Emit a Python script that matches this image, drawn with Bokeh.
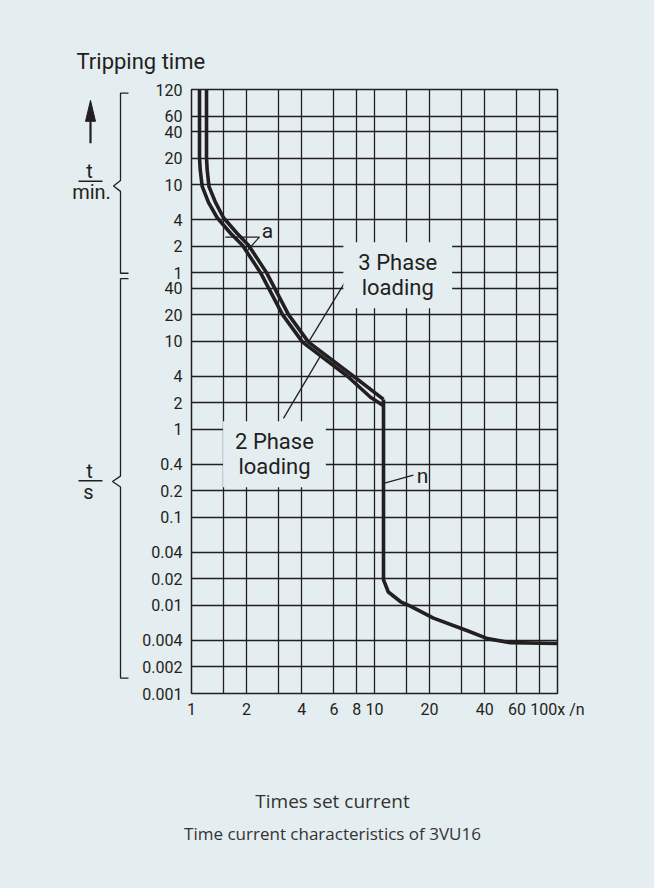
from bokeh.plotting import figure
from bokeh.layouts import column, row
from bokeh.models import Range1d, FixedTicker, Label
from bokeh.core.properties import value
from bokeh.embed import file_html
from bokeh.resources import INLINE

BG = "#e4edf0"
INK = "#231f20"
FONT = "Roboto"

# ---- axes / grid values ----
x_label_ticks = [1, 2, 4, 6, 8, 10, 20, 40, 60, 100]
x_label_text = ["1", "2", "4", "6", "8", "10", "20", "40", "60", "100x /n"]
x_grid = [1, 1.5, 2, 3, 4, 6, 8, 10, 15, 20, 30, 40, 60, 80, 100]

# tripping time in seconds (upper part labelled in minutes)
y_ticks_s = [7200, 3600, 2400, 1200, 600, 240, 120, 60,
             40, 20, 10, 4, 2, 1, 0.4, 0.2, 0.1, 0.04, 0.02, 0.01, 0.004, 0.002, 0.001]
y_tick_text = ["120", "60", "40", "20", "10", "4", "2", "1",
               "40", "20", "10", "4", "2", "1", "0.4", "0.2", "0.1", "0.04", "0.02",
               "0.01", "0.004", "0.002", "0.001"]

# ---- curves (x = multiple of set current, t = seconds) ----
phase2_x = [1.106, 1.106, 1.116, 1.144, 1.238, 1.382, 1.634, 1.899, 2.383, 3.143, 4.043, 7.120, 9.509, 11.20]
phase2_t = [7200, 1200, 881, 571, 376, 252, 168, 122.8, 60, 20, 9.75, 4, 2.31, 1.85]
phase3_x = [1.208, 1.208, 1.218, 1.246, 1.352, 1.496, 1.773, 2.049, 2.570, 3.389, 4.358, 7.677, 11.20]
phase3_t = [7200, 1200, 881, 571, 376, 252, 168, 122.8, 60, 20, 9.75, 4, 2.18]
n_x = [11.2, 11.2, 11.9, 13.9, 15.7, 21.0, 32.2, 41.4, 55.3, 100]
n_t = [2.18, 0.0195, 0.0142, 0.0110, 0.0098, 0.00718, 0.00516, 0.0042, 0.00378, 0.0037]

# leader lines
lead3_x = [7.12, 4.358]
lead3_t = [52, 9.75]
lead2_x = [3.18, 5.07]
lead2_t = [1.33, 6.8]
leadn_x = [11.35, 16.3]
leadn_t = [0.245, 0.302]
leada_x = [1.53, 2.35, 2.02]
leada_t = [152, 152, 107]

PAGE_W, PAGE_H = 654, 888
TOP_H = 76          # strip holding the "Tripping time" heading
MID_H = 664         # strip holding the chart and the side braces
LEFT_W = 138        # width of the brace strip


def blank(width, height, x0, x1, y_bottom, y_top):
    f = figure(width=width, height=height, x_range=Range1d(x0, x1),
               y_range=Range1d(y_bottom, y_top), output_backend="svg",
               toolbar_location=None, x_axis_location=None, y_axis_location=None,
               min_border=0, background_fill_color=BG, border_fill_color=BG)
    f.outline_line_color = None
    f.grid.visible = False
    return f


# ---- heading strip ----
top = blank(PAGE_W, TOP_H, 0, PAGE_W, TOP_H, 0)
top.text(x=[76], y=[61], text=["Tripping time"], text_font=value(FONT),
         text_font_size=value("22px"), text_color=INK, text_align="left",
         text_baseline="middle")

# ---- brace strip (page pixel coordinates) ----
left = blank(LEFT_W, MID_H, 0, LEFT_W, TOP_H + MID_H, TOP_H)
left.patch([85, 90, 95], [111, 88, 111], color=INK)
left.line([90, 90], [108, 135], line_width=2.2, color=INK)
left.line([128, 120, 120, 113, 120, 120, 128], [80, 80, 176, 182, 188, 278, 278],
          line_width=1.3, color=INK)
left.line([128, 120, 120, 112, 120, 120, 128], [284, 284, 501, 507, 513, 723, 723],
          line_width=1.3, color=INK)
left.line([78, 102], [177, 177], line_width=1.5, color=INK)
left.line([78, 102], [506, 506], line_width=1.5, color=INK)
left.text(x=[89, 91, 89, 88], y=[166, 189, 495, 518], text=["t", "min.", "t", "s"],
          text_font=value(FONT), text_font_size=value("20px"), text_color=INK,
          text_align="center", text_baseline="middle")

# ---- main chart ----
FRAME_L = 191 - LEFT_W
FRAME_T = 89 - TOP_H
FRAME_W, FRAME_H = 366, 604
p = figure(x_axis_type="log", y_axis_type="log",
           x_range=Range1d(1, 100), y_range=Range1d(0.001, 7200),
           width=PAGE_W - LEFT_W, height=MID_H,
           frame_width=FRAME_W, frame_height=FRAME_H,
           min_border_left=FRAME_L, min_border_right=PAGE_W - LEFT_W - FRAME_L - FRAME_W,
           min_border_top=FRAME_T, min_border_bottom=MID_H - FRAME_T - FRAME_H,
           output_backend="svg", toolbar_location=None,
           background_fill_color=BG, border_fill_color=BG)
p.outline_line_color = INK
p.outline_line_width = 1.5

for ax in (p.xaxis[0], p.yaxis[0]):
    ax.axis_line_color = None
    ax.major_tick_line_color = None
    ax.minor_tick_line_color = None
    ax.major_tick_in = 0
    ax.major_tick_out = 0
    ax.major_label_text_font = FONT
    ax.major_label_text_font_size = "16px"
    ax.major_label_text_color = INK

p.xaxis.ticker = FixedTicker(ticks=x_label_ticks)
p.xaxis.major_label_overrides = dict(zip(x_label_ticks, x_label_text))
p.xaxis.major_label_standoff = 6
p.yaxis.ticker = FixedTicker(ticks=y_ticks_s)
p.yaxis.major_label_overrides = dict(zip(y_ticks_s, y_tick_text))
p.yaxis.major_label_standoff = 9

p.xgrid.ticker = FixedTicker(ticks=x_grid)
p.ygrid.ticker = FixedTicker(ticks=y_ticks_s)
for g in (p.xgrid[0], p.ygrid[0]):
    g.grid_line_color = INK
    g.grid_line_width = 1.3
    g.grid_line_alpha = 1
    g.minor_grid_line_color = None

p.line(phase2_x, phase2_t, line_width=3.6, color=INK, line_join="round")
p.line(phase3_x, phase3_t, line_width=3.6, color=INK, line_join="round")
p.line(n_x, n_t, line_width=3.6, color=INK, line_join="round")

for lx, lt in ((lead3_x, lead3_t), (lead2_x, lead2_t), (leadn_x, leadn_t), (leada_x, leada_t)):
    p.line(lx, lt, line_width=1.3, color=INK)

p.add_layout(Label(x=13.4, y=56, text="3 Phase\nloading", text_align="center",
                   text_baseline="middle", text_font=FONT, text_font_size="22px",
                   text_color=INK, text_line_height=1.0,
                   background_fill_color=BG, padding=(15, 8)))
p.add_layout(Label(x=2.84, y=0.52, text="2 Phase\nloading", text_align="center",
                   text_baseline="middle", text_font=FONT, text_font_size="22px",
                   text_color=INK, text_line_height=1.0,
                   background_fill_color=BG, padding=(12, 8)))
p.add_layout(Label(x=18.3, y=0.294, text="n", text_align="center", text_baseline="middle",
                   text_font=FONT, text_font_size="21px", text_color=INK))
p.add_layout(Label(x=2.60, y=176, text="a", text_align="center", text_baseline="middle",
                   text_font=FONT, text_font_size="21px", text_color=INK))

# ---- caption strip ----
BOT_H = PAGE_H - TOP_H - MID_H
bot = blank(PAGE_W, BOT_H, 0, PAGE_W, PAGE_H, TOP_H + MID_H)
bot.text(x=[332], y=[800], text=["Times set current"], text_font=value("Open Sans"),
         text_font_size=value("19px"), text_color="#333333", text_align="center",
         text_baseline="middle")
bot.text(x=[332], y=[833], text=["Time current characteristics of 3VU16"],
         text_font=value("Open Sans"), text_font_size=value("17px"), text_color="#333333",
         text_align="center", text_baseline="middle")

mid = row(left, p, spacing=0, styles={"background-color": BG})
layout = column(top, mid, bot, spacing=0, styles={"background-color": BG})
open("out.html", "w").write(file_html(layout, INLINE))
